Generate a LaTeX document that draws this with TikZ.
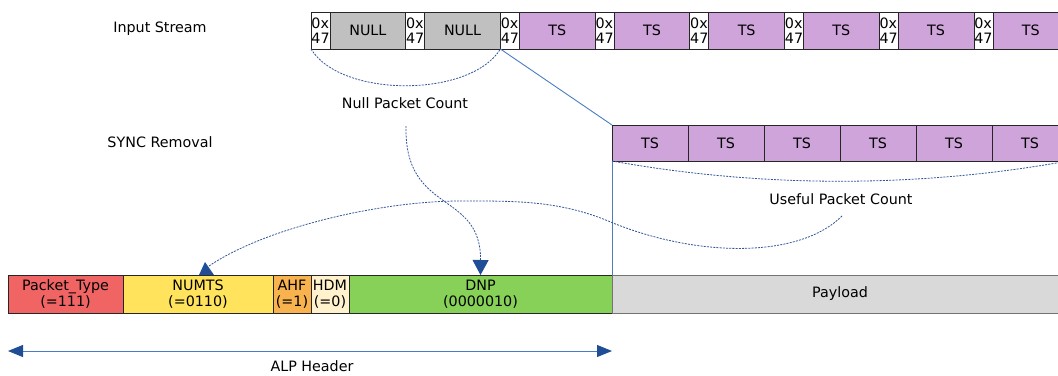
\documentclass[tikz,border=0pt]{standalone}
\usepackage{fontspec}
\setmainfont{DejaVu Sans}
\usetikzlibrary{arrows.meta}
\definecolor{nullgray}{HTML}{C0C0C0}
\definecolor{tspurple}{HTML}{CFA4DA}
\definecolor{ptred}{HTML}{F06464}
\definecolor{numyel}{HTML}{FFE35C}
\definecolor{ahforange}{HTML}{F8B24E}
\definecolor{hdmcream}{HTML}{FFF2CC}
\definecolor{dnpgreen}{HTML}{88D158}
\definecolor{paygray}{HTML}{D9D9D9}
\definecolor{linkblue}{HTML}{4A7CC4}
\definecolor{darkblue}{HTML}{1F4E96}
\definecolor{dashblue}{HTML}{2F5597}
\begin{document}
\begin{tikzpicture}[x=1pt,y=-1pt,
  font=\fontsize{14.3}{15.5}\selectfont,
  cellbox/.style={draw=black!85, line width=0.8pt, inner sep=0pt, outer sep=0pt,
    anchor=north west, align=center},
  synccell/.style={cellbox, fill=white, minimum width=19pt, minimum height=37pt, align=left},
  bodycell/.style={cellbox, minimum width=75.7pt, minimum height=37pt},
  tscell/.style={cellbox, fill=tspurple, minimum width=76pt, minimum height=36pt},
  hdrcell/.style={cellbox, minimum height=38pt},
  label/.style={inner sep=1pt},
  dashcurve/.style={dashblue, line width=0.8pt, dash pattern=on 2pt off 1.2pt},
  linkline/.style={linkblue, line width=0.9pt}]
\useasboundingbox (0,0) rectangle (1058,375);
\clip (0,0) rectangle (1058,375);

% labels
\node[label] (inlabel) at (160,29) {Input Stream};
\node[label] (synclabel) at (160,142) {SYNC Removal};
\node[label] (nullcnt) at (405,103) {Null Packet Count};
\node[label] (usefulcnt) at (841,199) {Useful Packet Count};
\node[label] (alplabel) at (312,366) {ALP Header};

% input stream
\foreach \i in {0,...,7} {
  \pgfmathsetmacro\xs{311+94.7*\i}
  \node[synccell] (s\i) at (\xs,12) {0x\\47};
  \ifnum\i<2
    \node[bodycell, fill=nullgray] (b\i) at ({\xs+19},12) {NULL};
  \else
    \node[bodycell, fill=tspurple] (b\i) at ({\xs+19},12) {TS};
  \fi
}

% sync removal row
\foreach \i in {0,...,5} {
  \node[tscell] (t\i) at ({612+76*\i},125) {TS};
}

% ALP header row
\node[hdrcell, fill=ptred, minimum width=115pt] (ptype) at (8,275) {Packet\_Type\\(=111)};
\node[hdrcell, fill=numyel, minimum width=150pt] (numts) at (123,275) {NUMTS\\(=0110)};
\node[hdrcell, fill=ahforange, minimum width=38pt] (ahf) at (273,275) {AHF\\(=1)};
\node[hdrcell, fill=hdmcream, minimum width=38pt] (hdm) at (311,275) {HDM\\(=0)};
\node[hdrcell, fill=dnpgreen, minimum width=263pt] (dnp) at (349,275) {DNP\\(0000010)};
\node[hdrcell, fill=paygray, draw=black!55, minimum width=452pt] (payload) at (612,275) {};
\node[label] (paytext) at (840,294) {Payload};

% solid blue connector
\draw[linkline] (s2.south west) -- (t0.north west);
\draw[linkline] (t0.south west) -- (dnp.north east);

% count braces
\draw[dashcurve] (s0.south west) .. controls +(30,49) and +(-30,49) .. (s2.south west);
\draw[dashcurve] (t0.south west) .. controls +(150,27) and +(-150,27) .. (t5.south east);

% null count -> DNP
\coordinate (nstart) at (406,126);
\draw[dashcurve, -{Triangle[width=16pt,length=15pt,color=darkblue]}]
  (nstart) .. controls (404,215) and (481,190) .. (dnp.north);

% useful count -> NUMTS
\coordinate (ustart) at (842,216);
\draw[dashcurve] (ustart) .. controls (800,258) and (700,258) .. (613,223)
  .. controls (560,200) and (515,201) .. (460,201)
  .. controls (380,201) and (265,228) .. ([xshift=11pt,yshift=9pt]numts.north);
\fill[darkblue] ([xshift=1pt]numts.north) -- ([xshift=16pt]numts.north)
  -- ([xshift=7pt,yshift=13pt]numts.north) -- cycle;

% ALP header span arrow
\draw[linkline, {Triangle[width=12pt,length=15pt,color=darkblue]}-{Triangle[width=12pt,length=15pt,color=darkblue]}]
  ([yshift=-38pt]ptype.south west) -- ([yshift=-38pt]dnp.south east);
\end{tikzpicture}
\end{document}
